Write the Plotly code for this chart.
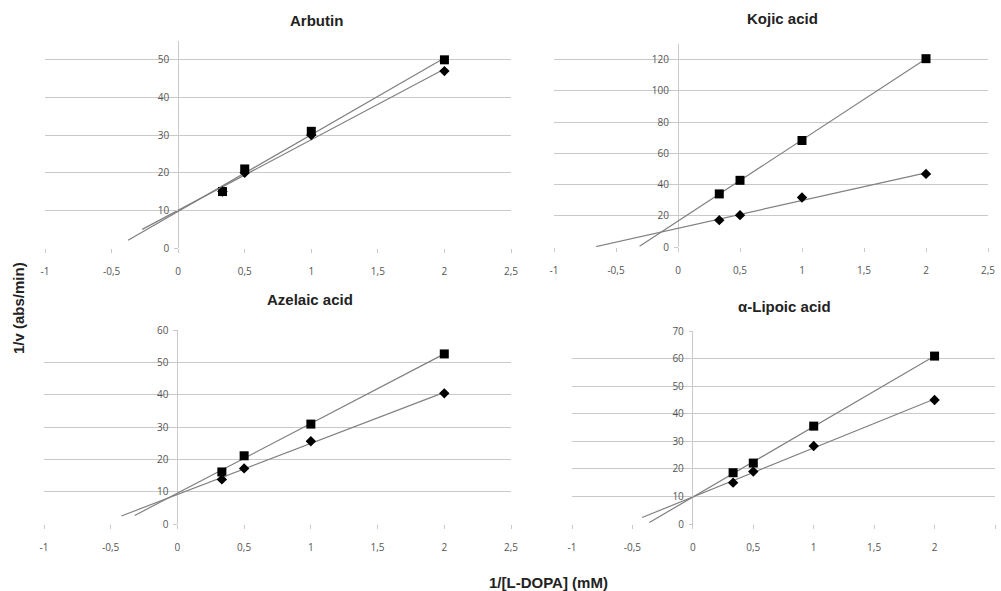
import numpy as np
import plotly.graph_objects as go

# ---- data ----
x_conc = [0.333, 0.5, 1.0, 2.0]

arbutin_sq = [15.0, 21.0, 31.0, 50.0]
arbutin_di = [15.0, 20.0, 30.0, 47.0]
kojic_sq = [34.0, 42.7, 68.2, 120.6]
kojic_di = [17.2, 20.4, 31.7, 46.8]
azelaic_sq = [16.1, 21.1, 30.9, 52.6]
azelaic_di = [13.8, 17.2, 25.6, 40.4]
lipoic_sq = [18.6, 22.1, 35.5, 60.9]
lipoic_di = [15.0, 19.0, 28.3, 45.0]

titles = ["Arbutin", "Kojic acid", "Azelaic acid", "α-Lipoic acid"]
x_tickvals = [-1, -0.5, 0, 0.5, 1, 1.5, 2, 2.5]
x_ticktext = ["-1", "-0,5", "0", "0,5", "1", "1,5", "2", "2,5"]

# trendline backward-forecast start (x) for square / diamond series
trend_start_sq = [-0.376, -0.31, -0.32, -0.36]
trend_start_di = [-0.27, -0.66, -0.42, -0.42]

# ---- layout params ----
W, H = 1001, 591
panels = [
    dict(sq=arbutin_sq, di=arbutin_di, xpx=(45, 511), ypx=(248, 41), ymax=55, dtick=10, ymaxtick=50),
    dict(sq=kojic_sq, di=kojic_di, xpx=(554, 988), ypx=(247, 44), ymax=130, dtick=20, ymaxtick=120),
    dict(sq=azelaic_sq, di=azelaic_di, xpx=(44, 511), ypx=(524, 330), ymax=60, dtick=10, ymaxtick=60),
    dict(sq=lipoic_sq, di=lipoic_di, xpx=(572, 995), ypx=(524, 331), ymax=70, dtick=10, ymaxtick=70),
]
XMIN, XMAX = -1, 2.5
LINE_COL = "#808080"
GRID_COL = "#c9c9c9"
TICK_FONT = dict(family="Open Sans, DejaVu Sans, sans-serif", size=10, color="#555555")
TITLE_FONT = dict(family="Liberation Sans, Arial, sans-serif", size=15, color="#222222")

fig = go.Figure()
annotations = []
for i, p in enumerate(panels):
    n = i + 1
    xa = "x" if n == 1 else f"x{n}"
    ya = "y" if n == 1 else f"y{n}"
    xd = [p["xpx"][0] / W, p["xpx"][1] / W]
    yd = [1 - p["ypx"][0] / H, 1 - p["ypx"][1] / H]
    # free y-axis positioned at x = 0
    ypos = xd[0] + (0 - XMIN) / (XMAX - XMIN) * (xd[1] - xd[0])

    for series, start, sym, size in ((p["sq"], trend_start_sq[i], "square", 9),
                                     (p["di"], trend_start_di[i], "diamond", 8)):
        k, b = np.polyfit(x_conc, series, 1)
        xl = np.array([start, max(x_conc)])
        fig.add_trace(go.Scatter(x=xl, y=k * xl + b, mode="lines",
                                 line=dict(color=LINE_COL, width=1.2),
                                 xaxis=xa, yaxis=ya, showlegend=False, hoverinfo="skip"))
        fig.add_trace(go.Scatter(x=x_conc, y=series, mode="markers",
                                 marker=dict(symbol=sym, size=size, color="black"),
                                 xaxis=xa, yaxis=ya, showlegend=False))

    ytv = list(range(0, p["ymaxtick"] + 1, p["dtick"]))
    xkey = "xaxis" if n == 1 else f"xaxis{n}"
    ykey = "yaxis" if n == 1 else f"yaxis{n}"
    fig.update_layout(**{
        xkey: dict(domain=xd, anchor=ya, range=[XMIN, XMAX], tickvals=x_tickvals,
                   ticktext=x_ticktext, showgrid=False, zeroline=True,
                   zerolinecolor=GRID_COL, zerolinewidth=1, showline=False,
                   ticks="outside", ticklen=4, tickcolor=GRID_COL, automargin=False,
                   ticklabelstandoff=10, tickfont=TICK_FONT, fixedrange=True),
        ykey: dict(domain=yd, anchor="free", position=ypos, range=[0, p["ymax"]],
                   tickvals=ytv, showgrid=True, gridcolor=GRID_COL, gridwidth=1,
                   zeroline=False, showline=False, ticks="outside", ticklen=4,
                   automargin=False, ticklabelstandoff=3,
                   tickcolor=GRID_COL, tickfont=TICK_FONT, fixedrange=True),
    })

title_pos = [(316, 20), (782, 19), (310, 299), (784, 306)]
for t, (tx, ty) in zip(titles, title_pos):
    annotations.append(dict(text=f"<b>{t}</b>", x=tx / W, y=1 - ty / H, xref="paper", yref="paper",
                            showarrow=False, xanchor="center", yanchor="middle", font=TITLE_FONT))

annotations.append(dict(text="<b>1/v (abs/min)</b>", x=18 / W, y=1 - 308 / H, xref="paper", yref="paper",
                        showarrow=False, textangle=-90, xanchor="center", yanchor="middle",
                        font=TITLE_FONT))
annotations.append(dict(text="<b>1/[L-DOPA] (mM)</b>", x=548 / W, y=1 - 582 / H, xref="paper", yref="paper",
                        showarrow=False, xanchor="center", yanchor="middle", font=TITLE_FONT))

fig.update_layout(width=W, height=H, margin=dict(l=0, r=0, t=0, b=0),
                  paper_bgcolor="white", plot_bgcolor="white",
                  annotations=annotations, showlegend=False)

fig.write_html("out.html")
